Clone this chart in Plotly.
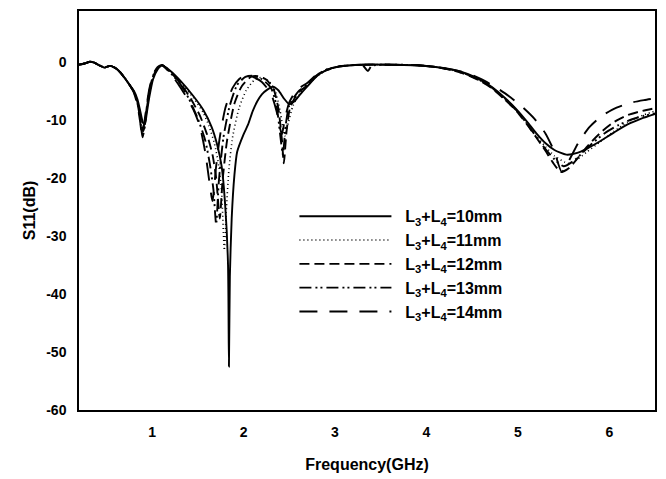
import plotly.graph_objects as go

# ---- data ----
legend_names = ["L<sub>3</sub>+L<sub>4</sub>=10mm", "L<sub>3</sub>+L<sub>4</sub>=11mm",
                "L<sub>3</sub>+L<sub>4</sub>=12mm", "L<sub>3</sub>+L<sub>4</sub>=13mm",
                "L<sub>3</sub>+L<sub>4</sub>=14mm"]

freq_10 = [0.20,0.26,0.32,0.36,0.42,0.48,0.54,0.60,0.65,0.70,0.75,0.80,0.84,0.87,0.90,0.92,0.94,0.97,1.01,1.06,
           1.11,1.20,1.31,1.45,1.56,1.65,1.71,1.76,1.80,1.83,1.84,1.85,1.87,1.90,1.93,2.00,2.05,2.10,2.15,2.20,
           2.26,2.32,2.38,2.44,2.50,2.55,2.62,2.70,2.80,2.90,3.05,3.30,3.60,3.90,4.10,4.30,4.45,4.60,4.72,4.85,
           4.98,5.10,5.20,5.30,5.40,5.53,5.65,5.75,5.90,6.05,6.20,6.35,6.50]
s11_10 = [-0.5,-0.3,0.0,-0.1,-0.6,-1.0,-0.7,-1.1,-1.8,-2.8,-3.9,-5.0,-6.5,-8.5,-10.5,-10.8,-9.0,-6.0,-3.0,-1.3,
          -0.6,-1.6,-3.3,-5.9,-8.3,-11.2,-14.2,-18.0,-25.0,-35.0,-52.5,-37.0,-27.0,-19.5,-15.5,-12.5,-10.8,-8.5,-6.8,-5.6,
          -4.8,-4.3,-4.9,-6.3,-7.3,-6.9,-5.6,-4.2,-2.5,-1.5,-0.8,-0.5,-0.5,-0.6,-0.9,-1.4,-2.1,-3.2,-4.4,-6.1,
          -8.1,-10.3,-12.3,-14.0,-15.2,-16.0,-15.7,-15.0,-13.7,-12.2,-10.8,-9.8,-9.0]

freq_11 = [0.20,0.26,0.32,0.36,0.42,0.48,0.54,0.60,0.65,0.70,0.75,0.80,0.84,0.87,0.90,0.92,0.94,0.97,1.01,1.06,
           1.11,1.20,1.31,1.45,1.56,1.62,1.68,1.73,1.76,1.79,1.81,1.84,1.88,1.95,2.03,2.12,2.20,2.28,2.35,2.40,
           2.45,2.49,2.54,2.62,2.70,2.80,2.90,3.05,3.30,3.60,3.90,4.10,4.30,4.45,4.60,4.72,4.85,4.98,5.10,5.20,
           5.30,5.40,5.55,5.65,5.75,5.90,6.05,6.20,6.35,6.50]
s11_11 = [-0.5,-0.3,0.0,-0.1,-0.6,-1.0,-0.7,-1.1,-1.8,-2.8,-3.9,-5.1,-6.8,-9.0,-11.5,-11.0,-8.5,-5.5,-2.7,-1.2,
          -0.6,-1.7,-3.5,-6.2,-8.8,-11.0,-14.0,-18.0,-22.5,-32.5,-26.0,-18.5,-13.0,-8.0,-4.9,-3.1,-2.7,-3.4,-5.2,-8.5,
          -12.8,-10.5,-7.6,-5.4,-4.1,-2.5,-1.5,-0.8,-0.5,-0.5,-0.6,-0.9,-1.5,-2.2,-3.3,-4.5,-6.2,-8.2,-10.6,-12.7,
          -14.6,-16.2,-17.5,-16.8,-15.6,-13.8,-12.0,-10.4,-9.3,-8.5]

freq_12 = [0.20,0.26,0.32,0.36,0.42,0.48,0.54,0.60,0.65,0.70,0.75,0.80,0.84,0.87,0.90,0.92,0.94,0.97,1.01,1.06,
           1.11,1.20,1.31,1.42,1.52,1.60,1.66,1.70,1.74,1.77,1.82,1.90,1.98,2.08,2.16,2.25,2.33,2.38,2.42,2.44,
           2.47,2.51,2.60,2.70,2.80,2.90,3.05,3.30,3.60,3.90,4.10,4.30,4.45,4.60,4.72,4.85,4.98,5.10,5.20,5.30,
           5.38,5.47,5.56,5.66,5.78,5.92,6.05,6.20,6.35,6.50]
s11_12 = [-0.5,-0.3,0.0,-0.1,-0.6,-1.0,-0.7,-1.1,-1.8,-2.8,-3.9,-5.2,-7.0,-9.5,-12.0,-11.0,-8.2,-5.2,-2.5,-1.1,
          -0.6,-1.8,-3.7,-6.3,-9.2,-12.5,-16.0,-20.0,-27.0,-20.5,-13.5,-7.2,-4.2,-2.6,-2.5,-3.1,-4.8,-8.0,-13.5,-17.5,
          -12.0,-7.8,-5.3,-4.0,-2.4,-1.5,-0.8,-0.5,-0.5,-0.6,-0.9,-1.5,-2.3,-3.4,-4.6,-6.4,-8.4,-10.8,-13.0,-15.3,
          -17.3,-19.0,-18.3,-16.5,-14.2,-12.0,-10.4,-9.2,-8.5,-8.0]

freq_13 = [0.20,0.26,0.32,0.36,0.42,0.48,0.54,0.60,0.65,0.70,0.75,0.80,0.84,0.87,0.895,0.915,0.94,0.97,1.01,1.06,
           1.11,1.20,1.31,1.40,1.50,1.58,1.63,1.67,1.70,1.73,1.78,1.85,1.93,2.02,2.10,2.20,2.30,2.36,2.40,2.43,
           2.46,2.50,2.60,2.70,2.80,2.90,3.05,3.30,3.36,3.40,3.60,3.90,4.10,4.30,4.45,4.60,4.72,4.85,4.98,5.10,
           5.20,5.30,5.40,5.50,5.60,5.70,5.82,5.95,6.10,6.25,6.38,6.50]
s11_13 = [-0.5,-0.3,0.0,-0.1,-0.6,-1.0,-0.7,-1.1,-1.8,-2.8,-3.9,-5.2,-7.2,-10.0,-13.0,-11.5,-8.0,-5.0,-2.4,-1.0,
          -0.6,-1.9,-3.9,-6.3,-9.8,-13.5,-17.5,-22.0,-28.0,-20.5,-13.0,-7.5,-4.0,-2.6,-2.4,-3.0,-4.5,-7.5,-12.5,-16.0,
          -11.0,-7.5,-5.1,-3.9,-2.3,-1.4,-0.8,-0.6,-1.6,-0.7,-0.5,-0.6,-0.9,-1.5,-2.2,-3.3,-4.5,-6.3,-8.3,-10.7,
          -12.9,-15.0,-16.8,-18.0,-17.2,-15.8,-14.0,-12.3,-10.9,-9.9,-9.3,-8.9]

freq_14 = [0.20,0.26,0.32,0.36,0.42,0.48,0.54,0.60,0.65,0.70,0.75,0.80,0.84,0.87,0.89,0.91,0.94,0.97,1.01,1.06,
           1.11,1.20,1.30,1.38,1.45,1.52,1.58,1.62,1.66,1.70,1.74,1.80,1.88,1.95,2.02,2.10,2.20,2.30,2.36,2.40,
           2.42,2.45,2.50,2.58,2.70,2.80,2.90,3.05,3.30,3.60,3.90,4.10,4.30,4.45,4.60,4.75,4.90,5.05,5.18,5.30,
           5.40,5.48,5.56,5.66,5.78,5.92,6.08,6.25,6.38,6.50]
s11_14 = [-0.5,-0.3,0.0,-0.1,-0.6,-1.0,-0.7,-1.1,-1.8,-2.8,-3.9,-5.3,-7.5,-10.5,-12.8,-11.0,-7.5,-4.6,-2.2,-0.9,
          -0.6,-2.0,-4.2,-6.2,-8.2,-11.0,-15.5,-20.0,-24.0,-18.0,-13.0,-8.0,-4.5,-3.0,-2.3,-2.6,-3.5,-5.5,-8.5,-11.5,
          -12.5,-10.0,-7.0,-4.9,-3.6,-2.2,-1.4,-0.8,-0.5,-0.5,-0.6,-0.9,-1.4,-2.0,-3.0,-4.3,-5.9,-7.8,-9.8,-12.3,
          -15.5,-19.0,-17.0,-14.0,-11.3,-9.3,-7.9,-7.0,-6.6,-6.3]

x_ticks = [1, 2, 3, 4, 5, 6]
y_ticks = [0, -10, -20, -30, -40, -50, -60]

# ---- styles ----
series = [(freq_10, s11_10), (freq_11, s11_11), (freq_12, s11_12), (freq_13, s11_13), (freq_14, s11_14)]
dashes = ["solid", "1px,3px", "10px,5px", "12px,4px,2px,3px,2px,4px", "18px,12px"]

FONT = "Liberation Sans, Arial, sans-serif"
GAP = "\u00a0\u00a0"

fig = go.Figure()
for i, ((fx, fy), name, dash) in enumerate(zip(series, legend_names, dashes)):
    fig.add_trace(go.Scatter(
        x=fx, y=fy, mode="lines", name=GAP + "<b>" + name + "</b>",
        legendgroup="g%d" % i,
        line=dict(color="black", width=1.9 if dash != "1px,3px" else 1.6, dash=dash,
                  shape="spline", smoothing=0.6),
    ))

# the page body adds an 8px offset; margins compensate for it
fig.update_layout(
    width=650, height=466,
    margin=dict(l=71, r=1, t=1, b=64),
    paper_bgcolor="white", plot_bgcolor="white",
    font=dict(family=FONT, color="black"),
    showlegend=True,
    legend=dict(x=0.374, y=0.528, xanchor="left", yanchor="top",
                bgcolor="rgba(0,0,0,0)", borderwidth=0,
                itemwidth=92, tracegroupgap=0,
                font=dict(family=FONT, size=16, color="black")),
    xaxis=dict(range=[0.2, 6.5], tickvals=x_ticks, ticktext=["<b>%d</b>" % v for v in x_ticks],
               showgrid=False, zeroline=False, showline=True, mirror=True,
               linecolor="black", linewidth=1.5,
               ticks="outside", ticklen=8, tickcolor="rgba(0,0,0,0)",
               tickfont=dict(family=FONT, size=14, color="black"),
               title=dict(text="<b>Frequency(GHz)</b>", font=dict(family=FONT, size=16, color="black"),
                          standoff=20)),
    yaxis=dict(range=[-60, 8.75], tickvals=y_ticks, ticktext=["<b>%d</b>" % v for v in y_ticks],
               showgrid=False, zeroline=False, showline=True, mirror=True,
               linecolor="black", linewidth=1.5,
               ticks="outside", ticklen=8, tickcolor="rgba(0,0,0,0)",
               tickfont=dict(family=FONT, size=14, color="black"),
               title=dict(text="<b>S11(dB)</b>", font=dict(family=FONT, size=16, color="black"),
                          standoff=7)),
)

fig.write_html("out.html")
